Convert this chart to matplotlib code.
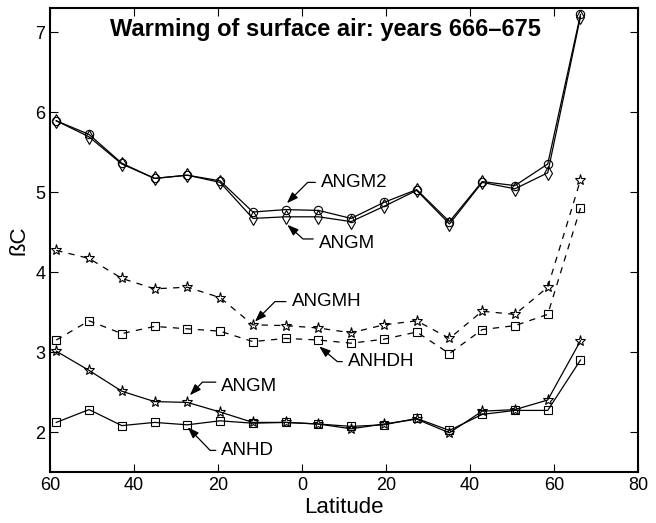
import numpy as np
import matplotlib
matplotlib.use('Agg')
import matplotlib.pyplot as plt

plt.rcParams['font.family'] = ['Liberation Sans', 'DejaVu Sans']

lat = [-58.5, -50.7, -42.9, -35.1, -27.3, -19.5, -11.7, -3.9, 3.9,
       11.7, 19.5, 27.3, 35.1, 42.9, 50.7, 58.5, 66.3]

angm2 = [5.89, 5.72, 5.36, 5.17, 5.21, 5.14, 4.75, 4.78, 4.77,
         4.67, 4.87, 5.03, 4.63, 5.13, 5.08, 5.35, 7.22]
angm_hi = [5.89, 5.69, 5.35, 5.17, 5.21, 5.12, 4.67, 4.69, 4.69,
           4.63, 4.82, 5.02, 4.60, 5.12, 5.04, 5.24, 7.19]
angmh = [4.27, 4.17, 3.92, 3.79, 3.81, 3.68, 3.34, 3.33, 3.30,
         3.24, 3.34, 3.39, 3.17, 3.51, 3.47, 3.81, 5.15]
anhdh = [3.15, 3.39, 3.23, 3.32, 3.29, 3.26, 3.13, 3.17, 3.15,
         3.11, 3.16, 3.25, 2.98, 3.28, 3.33, 3.47, 4.80]
angm_lo = [3.01, 2.77, 2.51, 2.38, 2.37, 2.25, 2.12, 2.12, 2.10,
           2.04, 2.10, 2.16, 1.99, 2.26, 2.28, 2.40, 3.14]
anhd = [2.12, 2.28, 2.08, 2.12, 2.09, 2.14, 2.11, 2.12, 2.10,
        2.07, 2.09, 2.17, 2.02, 2.22, 2.27, 2.27, 2.90]

xticks = [-60, -40, -20, 0, 20, 40, 60, 80]
xticklabels = ['60', '40', '20', '0', '20', '40', '60', '80']

# label, tip (x, y), text (x, y), angle of the pointer leg, relpos y
notes = [('ANGM2', (-3.6, 4.86), (4.5, 5.12), 45, 0.5),
         ('ANGM', (-3.5, 4.59), (4.0, 4.36), -42, 0.75),
         ('ANGMH', (-11.2, 3.38), (-2.5, 3.63), 45, 0.5),
         ('ANHDH', (4.1, 3.07), (10.9, 2.88), -40, 0.5),
         ('ANGM', (-26.7, 2.46), (-19.2, 2.57), 46, 0.75),
         ('ANHD', (-27.2, 2.06), (-19.2, 1.77), -46, 0.5)]

fig = plt.figure(figsize=(6.56, 5.23), dpi=100)
ax = fig.add_axes([0.0762, 0.0975, 0.8964, 0.8872])

ax.plot(lat, angm2, 'k-', marker='o', mfc='none', ms=6, lw=0.9, mew=0.8)
ax.plot(lat, angm_hi, 'k-', marker='d', mfc='none', ms=7, lw=0.9, mew=0.8)
ax.plot(lat, angmh, 'k--', marker='*', mfc='none', ms=8, lw=0.9, mew=0.8, dashes=(5, 5))
ax.plot(lat, anhdh, 'k--', marker='s', mfc='none', ms=5.5, lw=0.9, mew=0.8, dashes=(5, 5))
ax.plot(lat, angm_lo, 'k-', marker='*', mfc='none', ms=8, lw=0.9, mew=0.8)
ax.plot(lat, anhd, 'k-', marker='s', mfc='none', ms=5.5, lw=0.9, mew=0.8)

for label, tip, txt, ang, ry in notes:
    ax.annotate(label, xy=tip, xytext=txt, ha='left', va='center', fontsize=13.5,
                arrowprops=dict(arrowstyle='-|>,head_length=0.5,head_width=0.18',
                                color='k', lw=0.9, shrinkA=2, shrinkB=0,
                                relpos=(0, ry),
                                connectionstyle='angle,angleA=0,angleB=%d,rad=0' % ang))

ax.text(0.102, 0.953, 'Warming of surface air: years 666\u2013675', transform=ax.transAxes,
        fontsize=17, fontweight='bold', ha='left', va='center')

ax.set_xlim(-60, 80)
ax.set_ylim(1.5, 7.3)
ax.set_xticks(xticks)
ax.set_xticklabels(xticklabels)
ax.set_yticks([2, 3, 4, 5, 6, 7])
ax.tick_params(direction='in', top=True, right=True, labelsize=13, length=6, width=0.8)
for s in ax.spines.values():
    s.set_linewidth(1.5)
ax.set_xlabel('Latitude', fontsize=16, labelpad=2)
ax.set_ylabel('\u00dfC', fontsize=16, labelpad=4)

fig.savefig('out.png', dpi=100)
